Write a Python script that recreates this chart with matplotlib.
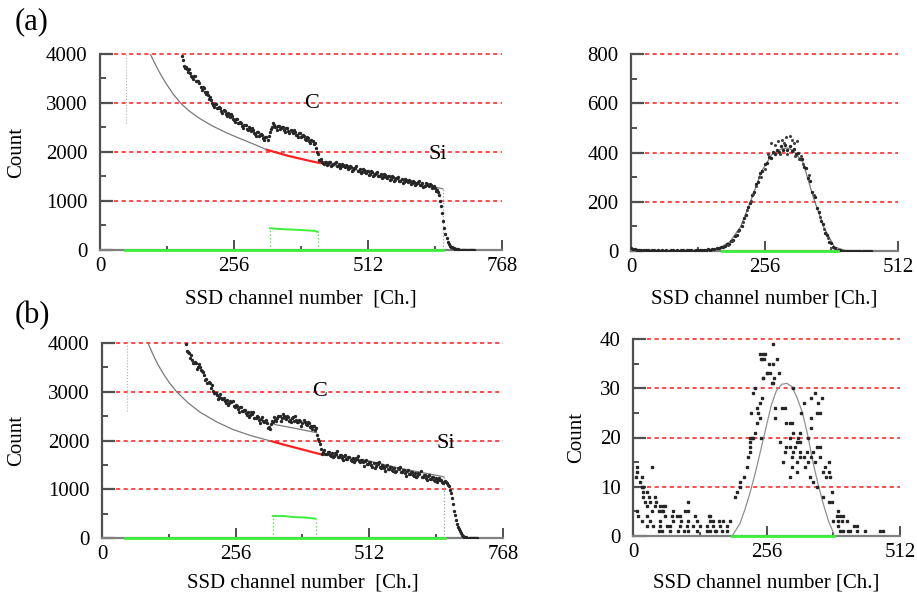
import numpy as np
import matplotlib
matplotlib.use('Agg')
import matplotlib.pyplot as plt

plt.rcParams['font.family'] = ['Liberation Serif', 'DejaVu Serif']
plt.rcParams['font.size'] = 15

# ---------------- Panel (a) left : full spectrum ----------------
a_start, a_step = 156, 4
a_counts = [3950, 3760, 3740, 3640, 3620, 3530, 3560, 3450, 3440, 3330, 3320, 3230, 3220, 3080,
            3070, 2960, 2980, 2890, 2910, 2830, 2850, 2770, 2800, 2720, 2730, 2650, 2680, 2590,
            2620, 2530, 2560, 2470, 2500, 2420, 2440, 2370, 2400, 2330, 2360, 2290, 2300, 2240,
            2400, 2520, 2560, 2500, 2530, 2470, 2510, 2440, 2480, 2420, 2450, 2380, 2410, 2350,
            2380, 2310, 2340, 2270, 2300, 2230, 2240, 2170, 2080, 1960, 1830, 1800, 1760, 1800,
            1750, 1790, 1740, 1770, 1720, 1760, 1710, 1740, 1690, 1720, 1670, 1690, 1640, 1680,
            1620, 1650, 1600, 1630, 1580, 1610, 1555, 1590, 1535, 1565, 1515, 1545, 1495, 1525,
            1475, 1505, 1455, 1485, 1435, 1465, 1415, 1445, 1395, 1430, 1380, 1410, 1365, 1395,
            1350, 1380, 1330, 1365, 1315, 1350, 1300, 1335, 1290, 1270, 1220, 1120, 900, 600,
            330, 170, 90, 55, 35, 20, 12, 8, 5, 3, 2, 1, 1, 0]
a2_start = 158
a2_counts = [3885, 3705, 3700, 3685, 3550, 3485, 3545, 3440, 3410, 3275, 3305, 3180, 3160, 3130,
             2990, 2910, 2975, 2895, 2895, 2790, 2840, 2740, 2770, 2780, 2665, 2605, 2675, 2600,
             2600, 2495, 2545, 2440, 2470, 2485, 2380, 2325, 2405, 2340, 2350, 2245, 2300, 2330,
             2470, 2595, 2505, 2455, 2540, 2485, 2500, 2410, 2480, 2390, 2425, 2450, 2355, 2305,
             2385, 2320, 2330, 2235, 2295, 2190, 2215, 2180, 1995, 1835, 1855, 1775, 1805, 1725,
             1800, 1720, 1765, 1800, 1715, 1675, 1765, 1710, 1730, 1645, 1710, 1620, 1670, 1705,
             1610, 1565, 1655, 1600, 1620, 1533, 1603, 1517, 1560, 1595, 1505, 1460, 1550, 1495,
             1515, 1430, 1500, 1415, 1460, 1495, 1405, 1360, 1452, 1400, 1420, 1338, 1410, 1327,
             1375, 1410, 1323, 1280, 1372, 1320, 1343, 1262, 1310, 1200, 1180, 1010, 760, 450,
             240, 125, 70, 48, 26, 15, 9, 7, 3, 2, 2, 0, 1, 0]
a_bg_ch = [96, 106, 117, 128, 140, 153, 170, 191, 215, 242, 265, 287, 305, 319]
a_bg_val = [4000, 3780, 3560, 3370, 3180, 3010, 2840, 2680, 2530, 2390, 2285, 2190, 2110, 2045]
a_red_ch = [319, 340, 360, 380, 400, 420]
a_red_val = [2045, 1980, 1920, 1870, 1820, 1775]
a_bg2_ch = [420, 464, 510, 573, 620, 650, 655]
a_bg2_val = [1775, 1690, 1590, 1430, 1320, 1260, 1250]
a_green_base_ch = [48, 655]
a_green_base_val = [0, 0]
a_green_ch = [325, 340, 380, 410, 416]
a_green_val = [445, 430, 410, 390, 370]

# ---------------- Panel (a) right : C peak ----------------
ar_step = 4
ar_counts = [14, 8, 9, 5, 6, 4, 5, 3, 4, 2, 3, 4, 2, 3, 2, 4, 2, 3, 2, 3, 4, 2, 3, 2, 4, 3, 2, 3,
             4, 3, 2, 4, 3, 4, 3, 5, 4, 7, 6, 9, 8, 12, 11, 15, 17, 19, 27, 29, 40, 44, 59, 64,
             86, 101, 133, 148, 180, 193, 229, 240, 274, 282, 318, 324, 355, 356, 382, 378, 401,
             394, 412, 404, 425, 410, 430, 412, 426, 405, 414, 392, 398, 372, 374, 342, 338, 297,
             285, 238, 219, 173, 158, 120, 109, 75, 64, 38, 31, 16, 13, 6, 5, 2, 2, 1, 0, 1, 0,
             0, 1, 0, 0, 0, 0, 0, 0, 0]
ar_extra_ch = [268, 276, 282, 290, 298, 305, 312, 318, 262, 286, 300, 314, 322, 330, 250, 256,
               240, 234, 342, 350, 245, 326, 294, 308, 206, 214, 222, 230, 362, 370, 378, 186, 194]
ar_extra_val = [440, 430, 445, 450, 462, 467, 440, 445, 395, 395, 395, 385, 372, 355, 300, 335,
                262, 232, 310, 226, 300, 385, 440, 452, 80, 118, 166, 205, 140, 90, 52, 26, 42]
ar_fit_ch = [0, 40, 100, 150, 170, 190, 210, 230, 250, 270, 290, 300, 310, 330, 350, 370, 390, 410, 440]
ar_fit_val = [8, 3, 2, 5, 12, 38, 98, 205, 322, 392, 416, 418, 410, 360, 215, 95, 17, 2, 0]
ar_green_ch = [174, 397]
ar_green_val = [0, 0]

# ---------------- Panel (b) left : full spectrum ----------------
b_start, b_step = 160, 4
b_counts = [3980, 3820, 3700, 3660, 3580, 3600, 3500, 3510, 3420, 3340, 3260, 3200, 3080, 3020,
            2980, 2940, 2900, 2880, 2860, 2820, 2830, 2760, 2780, 2700, 2720, 2650, 2680, 2600,
            2630, 2560, 2580, 2520, 2540, 2470, 2500, 2430, 2450, 2390, 2410, 2350, 2280, 2330,
            2380, 2420, 2460, 2500, 2470, 2510, 2450, 2480, 2430, 2460, 2400, 2430, 2380, 2410,
            2350, 2380, 2320, 2350, 2290, 2290, 2220, 2120, 1990, 1820, 1760, 1730, 1760, 1710,
            1740, 1690, 1720, 1670, 1700, 1650, 1680, 1630, 1660, 1610, 1640, 1590, 1620, 1570,
            1600, 1550, 1570, 1520, 1550, 1500, 1530, 1480, 1510, 1460, 1490, 1440, 1470, 1420,
            1450, 1400, 1430, 1380, 1410, 1360, 1390, 1340, 1370, 1320, 1350, 1300, 1330, 1280,
            1310, 1260, 1290, 1240, 1270, 1220, 1250, 1200, 1230, 1180, 1200, 1150, 1170, 1120,
            1060, 930, 700, 470, 290, 180, 100, 50, 20, 10, 5, 3, 1, 0]
b2_start = 162
b2_counts = [3840, 3805, 3760, 3590, 3610, 3475, 3560, 3450, 3415, 3250, 3170, 3185, 3130, 2970,
             2980, 2845, 2945, 2855, 2875, 2775, 2735, 2815, 2820, 2680, 2705, 2590, 2695, 2600,
             2630, 2520, 2490, 2575, 2585, 2455, 2485, 2365, 2475, 2385, 2415, 2265, 2245, 2400,
             2480, 2410, 2500, 2410, 2545, 2465, 2500, 2405, 2385, 2475, 2495, 2375, 2415, 2305,
             2420, 2335, 2370, 2270, 2230, 2300, 2250, 2025, 1925, 1715, 1800, 1730, 1770, 1675,
             1655, 1750, 1775, 1655, 1695, 1590, 1710, 1630, 1670, 1575, 1555, 1650, 1675, 1555,
             1595, 1485, 1600, 1520, 1560, 1465, 1445, 1540, 1565, 1445, 1485, 1380, 1500, 1420,
             1460, 1365, 1345, 1440, 1465, 1345, 1385, 1280, 1400, 1320, 1360, 1265, 1245, 1340,
             1365, 1245, 1285, 1180, 1300, 1220, 1260, 1165, 1145, 1235, 1180, 1130, 1150, 1080,
             990, 820, 560, 370, 220, 150, 70, 30, 18, 6, 4, 2, 0, 1]
b_bg_ch = [88, 97, 107, 118, 130, 143, 165, 188, 220, 251, 285, 316, 325]
b_bg_val = [4000, 3780, 3560, 3360, 3170, 3000, 2770, 2580, 2380, 2225, 2100, 2010, 1985]
b_red_ch = [325, 350, 375, 400, 418]
b_red_val = [1985, 1910, 1840, 1770, 1720]
b_bg2_ch = [418, 437, 470, 507, 571, 634, 650, 655]
b_bg2_val = [1720, 1700, 1650, 1590, 1430, 1300, 1265, 1250]
b_tot_ch = [330, 370, 411]
b_tot_val = [2330, 2250, 2160]
b_green_base_ch = [44, 657]
b_green_base_val = [0, 0]
b_green_ch = [327, 350, 365, 390, 409]
b_green_val = [450, 450, 430, 420, 395]

# ---------------- Panel (b) right : C peak ----------------
br_ch = [7, 36, 7, 6, 17, 13, 17, 20, 19, 26, 20, 30, 42, 23, 33, 45, 106, 26, 42, 52, 58, 61,
         7, 36, 49, 55, 58, 77, 100, 106, 10, 26, 61, 74, 84, 90, 119, 145, 148,
         17, 33, 52, 77, 93, 106, 122, 148, 154, 164, 173, 186,
         26, 39, 52, 65, 71, 90, 103, 116, 129, 141, 154, 167, 180,
         49, 55, 71, 87, 97, 106, 122, 141, 148, 157, 160, 170, 180,
         196, 199, 205, 205, 212, 218, 221, 224, 228, 234, 237, 240, 244, 247, 250, 256, 247, 250,
         268, 243, 253, 246, 251, 277, 260, 269, 256, 263, 280, 250, 270, 266, 268, 234, 307,
         231, 349, 342, 362, 327, 355, 237, 272, 285, 291, 227, 323, 352, 358, 243, 272, 342,
         294, 301, 304, 342, 307, 320, 224, 231, 246, 301, 317, 336, 314, 320, 282,
         224, 294, 301, 310, 352, 358, 224, 291, 307, 320, 333, 346, 304, 320, 327, 342, 358,
         288, 314, 336, 349, 375, 304, 330, 368, 314, 365, 375, 301, 339, 371, 378, 346, 352,
         381, 365, 375, 381, 394, 391, 397, 403, 384, 394, 400, 410, 394, 423, 429,
         397, 403, 413, 416, 429, 445, 474, 480]
br_cnt = [14, 14, 13, 12, 12, 11, 10, 10, 9, 9, 8, 8, 8, 7, 7, 7, 7, 6, 6, 6, 6, 6,
          5, 5, 5, 5, 5, 5, 5, 5, 4, 4, 4, 4, 4, 4, 4, 4, 4,
          3, 3, 3, 3, 3, 3, 3, 3, 3, 3, 3, 3,
          2, 2, 2, 2, 2, 2, 2, 2, 2, 2, 2, 2, 2,
          1, 1, 1, 1, 1, 1, 1, 1, 1, 1, 1, 1, 1,
          8, 9, 10, 11, 12, 14, 16, 19, 20, 21, 23, 25, 27, 28, 32, 33, 36, 37,
          39, 37, 37, 36, 36, 36, 35, 35, 33, 33, 33, 32, 32, 31, 31, 30, 30,
          29, 29, 28, 28, 27, 27, 26, 26, 26, 26, 25, 25, 25, 25, 24, 24, 24,
          23, 23, 23, 22, 21, 21, 20, 20, 20, 20, 20, 20, 19, 19, 19,
          18, 18, 18, 18, 18, 18, 17, 17, 17, 17, 17, 17, 16, 16, 16, 16, 16,
          15, 15, 15, 15, 15, 14, 14, 14, 13, 13, 13, 12, 12, 12, 12, 11, 10,
          9, 8, 7, 7, 5, 4, 4, 4, 3, 3, 3, 3, 2, 2, 2,
          1, 1, 1, 1, 1, 1, 1, 1]
br_fit_ch = [190, 205, 215, 225, 235, 245, 255, 265, 275, 285, 295, 305, 315, 325, 335, 345,
             355, 365, 375, 385]
br_fit_val = [0, 2.5, 5.5, 9, 13, 17.5, 22, 26.5, 29.5, 30.8, 31, 30.3, 28, 25, 20.5, 15, 10.5,
              6.5, 3, 0.5]
br_green_ch = [190, 385]
br_green_val = [0, 0]

GRID = '#ff3b3b'
GREEN = '#3cf03c'
FIT = '#7a7a7a'
DOT = '#262626'

fig = plt.figure(figsize=(9.17, 5.93), dpi=100)
W, H = 917.0, 593.0


def make_axes(x0, x1, y0, y1):
    return fig.add_axes([x0 / W, 1 - y1 / H, (x1 - x0) / W, (y1 - y0) / H])


def style(ax, xmax, ymax, xmaj, xmin_, ymaj, ymin_, width_px):
    ax.set_xlim(0, xmax)
    ax.set_ylim(0, ymax)
    for s in ['top', 'right']:
        ax.spines[s].set_visible(False)
    ax.spines['left'].set_color('#505050')
    ax.spines['left'].set_linewidth(1.6)
    ax.spines['bottom'].set_color('#808080')
    ax.spines['bottom'].set_linewidth(1.6)
    ax.set_xticks(xmaj)
    ax.set_xticks(xmin_, minor=True)
    ax.set_yticks(ymaj)
    ax.set_yticks(ymin_, minor=True)
    ax.tick_params(axis='y', which='major', direction='in', length=9.5, width=1.6,
                   color='#505050', pad=9)
    ax.tick_params(axis='y', which='minor', direction='in', length=4.5, width=1.4,
                   color='#505050')
    ax.tick_params(axis='x', which='major', direction='in', length=7.5, width=1.4,
                   color='#505050', pad=5)
    ax.tick_params(axis='x', which='minor', direction='in', length=3, width=1.4,
                   color='#505050')
    ax.set_facecolor('none')
    for y in ymaj[1:]:
        ax.axhline(y, xmin=14 / width_px, xmax=1.0, color=GRID, lw=1.3,
                   dashes=(2.3, 1.9), zorder=0.5, clip_on=False)


def green_bump(ax, bx, by):
    ax.plot(bx, by, color=GREEN, lw=1.4, zorder=5)
    ax.plot([bx[0], bx[0]], [0, by[0]], ls=':', color=GREEN, lw=1.0, zorder=5)
    ax.plot([bx[-1], bx[-1]], [0, by[-1]], ls=':', color=GREEN, lw=1.0, zorder=5)


# ---- (a) left
ax1 = make_axes(100, 502, 54, 250)
style(ax1, 768, 4000, [0, 256, 512, 768], [128, 384, 640],
      [0, 1000, 2000, 3000, 4000], [500, 1500, 2500, 3500], 402)
ch = a_start + a_step * np.arange(len(a_counts))
ch_2 = a2_start + a_step * np.arange(len(a2_counts))
ax1.plot([50, 50], [2600, 4000], ls=':', color='#b0b0b0', lw=0.8)
ax1.plot(a_bg_ch, a_bg_val, color=FIT, lw=0.9)
ax1.plot(a_bg2_ch, a_bg2_val, color=FIT, lw=0.9)
ax1.plot([a_bg2_ch[-1], a_bg2_ch[-1]], [a_bg2_val[-1], 0], ls=':', color='#a0a0a0', lw=0.9)
ax1.plot(a_red_ch, a_red_val, color='#ff2020', lw=1.6, zorder=3)
ax1.plot(ch, a_counts, ls='none', marker='o', ms=1.4, color=DOT, zorder=4)
ax1.plot(ch_2, a2_counts, ls='none', marker='o', ms=1.4, color=DOT, zorder=4)
ax1.plot(a_green_base_ch, a_green_base_val, color=GREEN, lw=2.0, zorder=5, clip_on=False)
green_bump(ax1, a_green_ch, a_green_val)
ax1.text(405, 3000, 'C', ha='center', va='center', fontsize=16)
ax1.text(646, 1950, 'Si', ha='center', va='center', fontsize=16)
ax1.set_ylabel('Count')
ax1.yaxis.set_label_coords(-0.184, 0.5)
ax1.set_xlabel('SSD channel number  [Ch.]')
ax1.xaxis.set_label_coords(0.5, -0.2)

# ---- (a) right
ax2 = make_axes(631, 898, 54, 251)
style(ax2, 512, 800, [0, 256, 512], [128, 384],
      [0, 200, 400, 600, 800], [100, 300, 500, 700], 267)
ch2 = ar_step * np.arange(len(ar_counts))
ax2.plot(ar_fit_ch, ar_fit_val, color=FIT, lw=0.9)
ax2.plot(ch2, ar_counts, ls='none', marker='o', ms=1.4, color=DOT, zorder=4)
ax2.plot(ar_extra_ch, ar_extra_val, ls='none', marker='o', ms=1.2, color='#404040', zorder=4)
ax2.plot(ar_green_ch, ar_green_val, color=GREEN, lw=2.0, zorder=5, clip_on=False)
ax2.set_xlabel('SSD channel number [Ch.]')
ax2.xaxis.set_label_coords(0.5, -0.195)

# ---- (b) left
ax3 = make_axes(102, 503, 343, 538)
style(ax3, 768, 4000, [0, 256, 512, 768], [128, 384, 640],
      [0, 1000, 2000, 3000, 4000], [500, 1500, 2500, 3500], 401)
ch3 = b_start + b_step * np.arange(len(b_counts))
ch3_2 = b2_start + b_step * np.arange(len(b2_counts))
ax3.plot([48, 48], [2600, 4000], ls=':', color='#b0b0b0', lw=0.8)
ax3.plot(b_bg_ch, b_bg_val, color=FIT, lw=0.9)
ax3.plot(b_bg2_ch, b_bg2_val, color=FIT, lw=0.9)
ax3.plot(b_tot_ch, b_tot_val, color=FIT, lw=0.9)
ax3.plot([b_bg2_ch[-1], b_bg2_ch[-1]], [b_bg2_val[-1], 0], ls=':', color='#a0a0a0', lw=0.9)
ax3.plot(b_red_ch, b_red_val, color='#ff2020', lw=1.6, zorder=3)
ax3.plot(ch3, b_counts, ls='none', marker='o', ms=1.4, color=DOT, zorder=4)
ax3.plot(ch3_2, b2_counts, ls='none', marker='o', ms=1.4, color=DOT, zorder=4)
ax3.plot(b_green_base_ch, b_green_base_val, color=GREEN, lw=2.0, zorder=5, clip_on=False)
green_bump(ax3, b_green_ch, b_green_val)
ax3.text(417, 2995, 'C', ha='center', va='center', fontsize=16)
ax3.text(659, 1930, 'Si', ha='center', va='center', fontsize=16)
ax3.set_ylabel('Count')
ax3.yaxis.set_label_coords(-0.19, 0.5)
ax3.set_xlabel('SSD channel number  [Ch.]')
ax3.xaxis.set_label_coords(0.5, -0.18)

# ---- (b) right
ax4 = make_axes(633, 900, 339, 536)
style(ax4, 512, 40, [0, 256, 512], [128, 384],
      [0, 10, 20, 30, 40], [5, 15, 25, 35], 267)
ax4.plot(br_fit_ch, br_fit_val, color='#909090', lw=0.9)
ax4.plot(br_ch, br_cnt, ls='none', marker='s', ms=1.6, color=DOT, zorder=4)
ax4.plot(br_green_ch, br_green_val, color=GREEN, lw=2.0, zorder=5, clip_on=False)
ax4.set_ylabel('Count')
ax4.yaxis.set_label_coords(-0.176, 0.5)
ax4.set_xlabel('SSD channel number [Ch.]')
ax4.xaxis.set_label_coords(0.5, -0.188)

fig.text(32 / W, 1 - 22 / H, '(a)', ha='center', va='center', fontsize=22)
fig.text(32 / W, 1 - 316 / H, '(b)', ha='center', va='center', fontsize=22)

fig.savefig('out.png', dpi=100)
